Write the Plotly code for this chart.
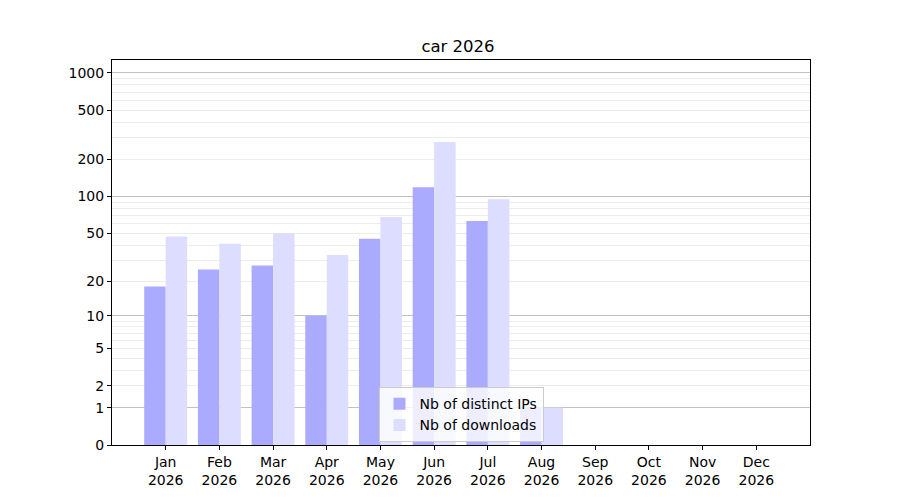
import numpy as np
import plotly.graph_objects as go

months = ["Jan", "Feb", "Mar", "Apr", "May", "Jun",
          "Jul", "Aug", "Sep", "Oct", "Nov", "Dec"]
year = "2026"
distinct_ips = [18, 25, 27, 10, 45, 119, 63, 1, 0, 0, 0, 0]
downloads = [47, 41, 50, 33, 68, 277, 95, 1, 0, 0, 0, 0]

major_ticks = [0, 1, 2, 5, 10, 20, 50, 100, 200, 500, 1000]
decades = [1, 10, 100, 1000]
minor_ticks = [3, 4, 6, 7, 8, 9, 30, 40, 60, 70, 80, 90,
               300, 400, 600, 700, 800, 900]


def tr(v):
    # symlog-like scale used by the original: log10(1 + v)
    return np.log10(1 + np.asarray(v, dtype=float))


x = np.arange(len(months))
font = "DejaVu Sans"
y_range = [0, 3.105]

fig = go.Figure()
fig.add_bar(
    x=x, y=tr(distinct_ips), width=0.4, offset=-0.4,
    marker=dict(color="rgb(170,170,255)", line_width=0),
    name="Nb of distinct IPs",
)
fig.add_bar(
    x=x, y=tr(downloads), width=0.4, offset=0,
    marker=dict(color="rgb(221,221,255)", line_width=0),
    name="Nb of downloads",
)
# invisible trace on the overlay axis so its darker decade grid is drawn
fig.add_scatter(x=[None], y=[None], yaxis="y2", showlegend=False,
                hoverinfo="skip")

# the page body has an 8px margin, so margins are shifted to compensate
fig.update_layout(
    width=900, height=500,
    margin=dict(l=104, r=98, t=52, b=63),
    plot_bgcolor="white", paper_bgcolor="white",
    barmode="overlay",
    font=dict(family=font, size=14, color="black"),
    title=dict(text="car 2026", x=0.5, xanchor="center", y=0.924,
               yanchor="middle", font=dict(size=16.5)),
    legend=dict(
        x=0.5, xanchor="center", y=0.079, yanchor="middle",
        bgcolor="rgba(255,255,255,0.8)", bordercolor="#cccccc", borderwidth=1,
        font=dict(size=14),
    ),
    showlegend=True,
    yaxis2=dict(
        overlaying="y", side="left", range=y_range, tickmode="array",
        tickvals=tr(decades), showticklabels=False, ticks="",
        showgrid=True, gridcolor="#c2c2c2", gridwidth=1, zeroline=False,
        showline=False,
    ),
)
fig.update_xaxes(
    range=[-1, 12], tickmode="array", tickvals=x,
    ticktext=[f"{m}<br>{year}" for m in months],
    showgrid=False, zeroline=False,
    showline=True, linecolor="black", linewidth=1, mirror=True,
    ticks="outside", ticklen=4, tickcolor="black",
)
fig.update_yaxes(
    selector=dict(overlaying=None),
    range=y_range, tickmode="array", tickvals=tr(major_ticks),
    ticktext=[str(v) for v in major_ticks],
    showgrid=True, gridcolor="#ececec", gridwidth=1, zeroline=False,
    showline=True, linecolor="black", linewidth=1, mirror=True,
    ticks="outside", ticklen=4, tickcolor="black",
    minor=dict(tickmode="array", tickvals=tr(minor_ticks), showgrid=True,
               gridcolor="#ececec", gridwidth=1, ticks=""),
)

fig.write_html("out.html")
